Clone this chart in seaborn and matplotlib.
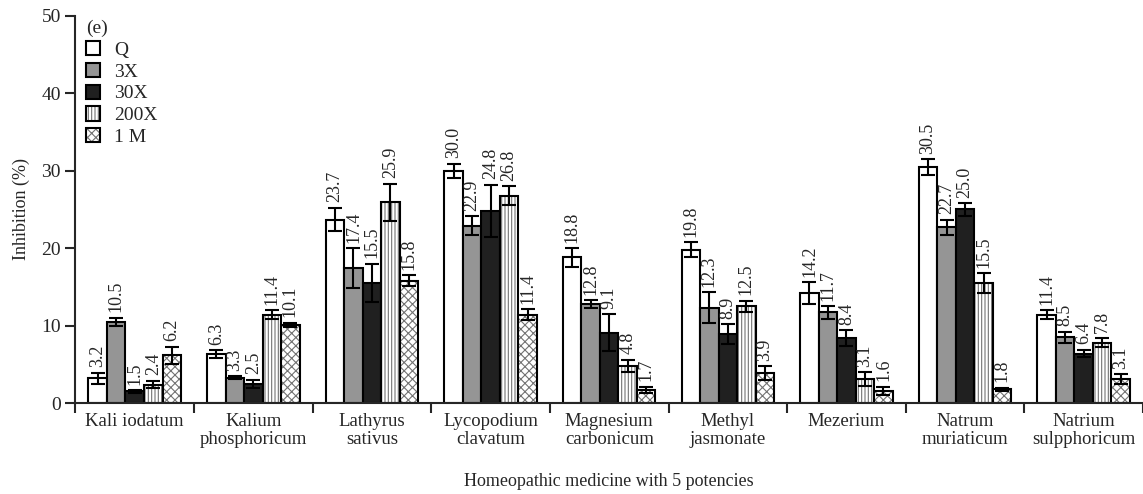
import numpy as np
import pandas as pd
import matplotlib
matplotlib.use("Agg")
import matplotlib.pyplot as plt
import seaborn as sns
from matplotlib.patches import Patch

medicines = ["Kali iodatum", "Kalium\nphosphoricum", "Lathyrus\nsativus",
             "Lycopodium\nclavatum", "Magnesium\ncarbonicum", "Methyl\njasmonate",
             "Mezerium", "Natrum\nmuriaticum", "Natrium\nsulpphoricum"]
potencies = ["Q", "3X", "30X", "200X", "1 M"]

q_vals = [3.2, 6.3, 23.7, 30.0, 18.8, 19.8, 14.2, 30.5, 11.4]
x3_vals = [10.5, 3.3, 17.4, 22.9, 12.8, 12.3, 11.7, 22.7, 8.5]
x30_vals = [1.5, 2.5, 15.5, 24.8, 9.1, 8.9, 8.4, 25.0, 6.4]
x200_vals = [2.4, 11.4, 25.9, 26.8, 4.8, 12.5, 3.1, 15.5, 7.8]
m1_vals = [6.2, 10.1, 15.8, 11.4, 1.7, 3.9, 1.6, 1.8, 3.1]

q_err = [0.7, 0.5, 1.5, 0.9, 1.2, 1.0, 1.4, 1.0, 0.6]
x3_err = [0.5, 0.2, 2.6, 1.2, 0.5, 2.0, 0.8, 1.0, 0.7]
x30_err = [0.2, 0.5, 2.5, 3.4, 2.4, 1.3, 1.0, 0.8, 0.5]
x200_err = [0.5, 0.6, 2.4, 1.2, 0.8, 0.7, 0.9, 1.3, 0.6]
m1_err = [1.1, 0.3, 0.7, 0.7, 0.4, 0.9, 0.5, 0.2, 0.6]

values = [q_vals, x3_vals, x30_vals, x200_vals, m1_vals]
errors = [q_err, x3_err, x30_err, x200_err, m1_err]

colors = ["white", "#959595", "#202020", "white", "white"]
hatches = [None, None, None, "|||||", "xxxx"]
hatch_gray = (0.45, 0.45, 0.45, 1.0)

rows = []
for p, vals, errs in zip(potencies, values, errors):
    for m, v, e in zip(medicines, vals, errs):
        rows.append({"medicine": m, "potency": p, "value": v, "err": e})
df = pd.DataFrame(rows)

sns.set_style("ticks")
plt.rcParams["font.family"] = ["Liberation Serif", "DejaVu Serif"]
plt.rcParams["hatch.linewidth"] = 0.8

fig, ax = plt.subplots(figsize=(11.43, 4.94), dpi=100)
fig.subplots_adjust(left=0.066, right=1.0, bottom=0.184, top=0.968)

sns.barplot(data=df, x="medicine", y="value", hue="potency", hue_order=potencies,
            palette=colors, edgecolor="black", linewidth=1.5, width=0.78,
            errorbar=None, legend=False, ax=ax)

for cont, hatch, errs, vals in zip(ax.containers, hatches, errors, values):
    xs = []
    for bar in cont:
        if hatch:
            bar.set_hatch(hatch)
            bar._hatch_color = hatch_gray
        xs.append(bar.get_x() + bar.get_width() / 2)
    ax.errorbar(xs, vals, yerr=errs, fmt="none", ecolor="black",
                elinewidth=1.5, capsize=5, capthick=1.5, zorder=5)
    for x, v, e in zip(xs, vals, errs):
        ax.text(x, v + e + 0.7, f"{v:.1f}", rotation=90, ha="center",
                va="bottom", fontsize=13)

ax.set_ylim(0, 50)
ax.set_xlim(-0.5, len(medicines) - 0.5)
ax.set_yticks(range(0, 51, 10))
ax.set_xticks(range(len(medicines)))
ax.set_xticklabels(medicines, fontsize=13.5, linespacing=1.1)
ax.set_xticks(np.arange(-0.5, len(medicines), 1.0), minor=True)
ax.tick_params(axis="x", which="major", length=0, pad=7)
ax.tick_params(axis="x", which="minor", length=7, width=1.5, direction="out")
ax.tick_params(axis="y", length=7, width=1.5, labelsize=14)
for s in ["left", "bottom"]:
    ax.spines[s].set_linewidth(1.5)
sns.despine(ax=ax)

ax.set_ylabel("Inhibition (%)", fontsize=13, labelpad=8)
ax.set_xlabel("Homeopathic medicine with 5 potencies", fontsize=13, labelpad=18)

handles = []
for c, h in zip(colors, hatches):
    hp = Patch(facecolor=c, edgecolor="black", hatch=h, linewidth=1.5)
    if h:
        hp._hatch_color = hatch_gray
    handles.append(hp)
leg = ax.legend(handles, potencies, title="(e)", loc="upper left",
                bbox_to_anchor=(-0.003, 1.025), frameon=False, fontsize=14,
                title_fontsize=14, handlelength=0.75, handleheight=0.75,
                handletextpad=0.7, labelspacing=0.2, borderaxespad=0.3)
leg._legend_box.align = "left"

fig.savefig("out.png", dpi=100)
